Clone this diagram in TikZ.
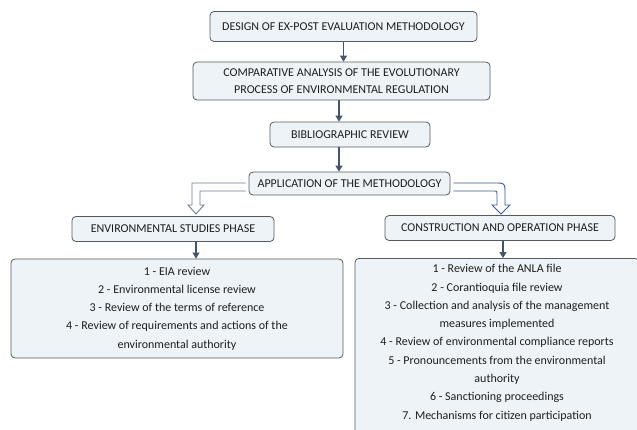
\documentclass[tikz,border=0pt]{standalone}
\usepackage{fontspec}
\setmainfont{Carlito}
\usetikzlibrary{arrows.meta,calc}
\definecolor{boxfill}{HTML}{EEF3F7}
\definecolor{boxline}{HTML}{555A60}
\definecolor{arrcol}{HTML}{44546A}
\definecolor{hollowA}{HTML}{6B7D96}
\definecolor{hollowB}{HTML}{3B5C9E}
\definecolor{txt}{HTML}{1E1E1E}
\tikzset{
  box/.style={draw=boxline, fill=boxfill, rounded corners=4pt, line width=0.8pt,
    font=\fontsize{12}{16.5}\selectfont, text=txt, inner sep=0pt, align=center},
  listbox/.style={box, font=\fontsize{12}{18.3}\selectfont},
  arr/.style={draw=arrcol, line width=1.1pt, -{Triangle[length=6pt,width=7pt]}},
  hollow/.style={line width=0.9pt, fill=white, line join=miter}
}
\begin{document}
\begin{tikzpicture}[x=1pt,y=-1pt]
\useasboundingbox (0,0) rectangle (637,429);
\node[box, minimum width=267pt, minimum height=30pt] (b1) at (343.5,26.5) {DESIGN OF EX-POST EVALUATION METHODOLOGY};
\node[box, minimum width=297pt, minimum height=38pt] (b2) at (341.5,81) {COMPARATIVE ANALYSIS OF THE EVOLUTIONARY\\PROCESS OF ENVIRONMENTAL REGULATION};
\node[box, minimum width=160pt, minimum height=25pt] (b3) at (350,134.5) {BIBLIOGRAPHIC REVIEW};
\node[box, minimum width=201pt, minimum height=23pt] (b4) at (349.5,183.5) {APPLICATION OF THE METHODOLOGY};
\node[box, minimum width=202pt, minimum height=25pt] (b5) at (173,229) {ENVIRONMENTAL STUDIES PHASE};
\node[box, minimum width=230pt, minimum height=25pt] (b6) at (500,228) {CONSTRUCTION AND OPERATION PHASE};
\node[listbox, minimum width=332pt, minimum height=99pt] (b7) at (177,308.5) {1 - EIA review\\2 - Environmental license review\\3 - Review of the terms of reference\\4 - Review of requirements and actions of the\\environmental authority};
\node[listbox, minimum width=284pt, inner ysep=6pt, anchor=north] (b8) at (497,258) {1 - Review of the ANLA file\\2 - Corantioquia file review\\3 - Collection and analysis of the management\\measures implemented\\4 - Review of environmental compliance reports\\5 - Pronouncements from the environmental\\authority\\6 - Sanctioning proceedings\\7. Mechanisms for citizen participation\\\mbox{}\\\mbox{}};
\coordinate (c1) at (339,0);
\coordinate (c2) at (196,0);
\coordinate (c3) at (503,0);
\draw[arr] (b1.south) -- (b1.south |- b2.north);
\draw[arr] (b2.south -| c1) -- (b3.north -| c1);
\draw[arr] (b3.south -| c1) -- (b4.north -| c1);
\draw[arr] (b5.south -| c2) -- (b7.north -| c2);
\draw[arr] (b6.south -| c3) -- (b8.north -| c3);
% hollow arrows
\draw[hollow, draw=hollowA] ($(b4.west)+(-3,-0.5)$) -- (192,183) -- (192,205) -- (188,205) -- (196,214) -- (204,205) -- (200,205) -- (200,191) -- ($(b4.west)+(-3,7.5)$);
\draw[hollow, draw=hollowB] ($(b4.east)+(3,-0.5)$) -- (495,183) .. controls (505,183) .. (505,193) -- (505,205) -- (510,205) -- (501,214) -- (492,205) -- (497,205) -- (497,194) .. controls (497,191) .. (494,191) -- ($(b4.east)+(3,7.5)$);
\end{tikzpicture}
\end{document}
